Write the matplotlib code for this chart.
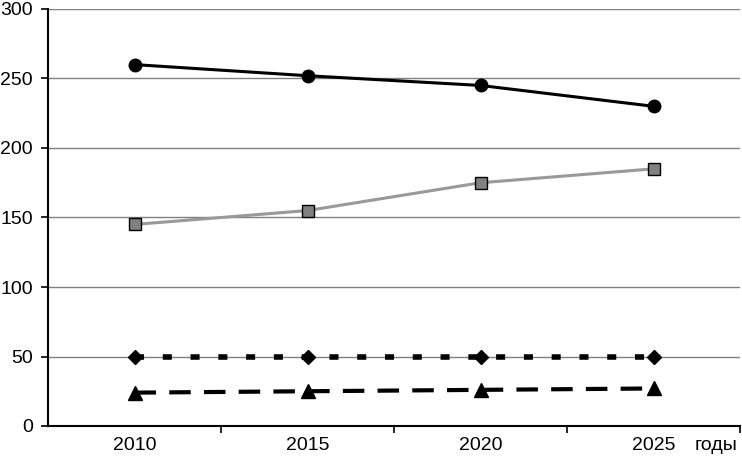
import matplotlib.pyplot as plt
import numpy as np

plt.rcParams['font.family'] = ['Liberation Sans', 'DejaVu Sans']
plt.rcParams['lines.scale_dashes'] = False

# данные
years = ['2010', '2015', '2020', '2025']
series_circle = [260, 252, 245, 230]
series_square = [145, 155, 175, 185]
series_diamond = [50, 50, 50, 50]
series_triangle = [24, 25, 26, 27]
y_ticks = [0, 50, 100, 150, 200, 250, 300]

fig = plt.figure(figsize=(7.42, 4.58), dpi=100)
ax = fig.add_axes([48 / 742, 1 - 426 / 458, 692 / 742, 417 / 458])

x = np.arange(len(years))

for yv in y_ticks[1:]:
    ax.axhline(yv, color='#808080', linewidth=1.0, zorder=1)

ax.plot(x, series_circle, color='black', linewidth=2.2, marker='o',
        markersize=9, zorder=3)
ax.plot(x, series_square, color='#999999', linewidth=2.2, marker='s',
        markersize=8, markerfacecolor='#808080', markeredgecolor='black',
        markeredgewidth=1.0, zorder=3)
ax.plot(x, series_diamond, color='black', linewidth=4.0, marker='D',
        markersize=7, dashes=(6.5, 13.5), dash_capstyle='butt', zorder=3)
ax.plot(x, series_triangle, color='black', linewidth=3.0, marker='^',
        markersize=10, dashes=(15.5, 9.5), dash_capstyle='butt', zorder=3)

ax.set_xlim(-0.5, 3.5)
ax.set_ylim(0, 300)
ax.set_yticks(y_ticks)
ax.set_xticks(x)
ax.set_xticklabels(years)
ax.set_xticks([0.5, 1.5, 2.5, 3.5], minor=True)
ax.tick_params(axis='x', which='major', length=0, pad=8, labelsize=14)
ax.tick_params(axis='x', which='minor', length=5, width=1.2, direction='out')
ax.tick_params(axis='y', length=5, width=1.2, direction='out', pad=6,
               labelsize=14)

for side in ['top', 'right']:
    ax.spines[side].set_visible(False)
for side in ['left', 'bottom']:
    ax.spines[side].set_linewidth(1.5)

fig.text(738 / 742, 1 - 446 / 458, 'годы', ha='right', va='center',
         fontsize=14)

fig.savefig('out.png', dpi=100)
